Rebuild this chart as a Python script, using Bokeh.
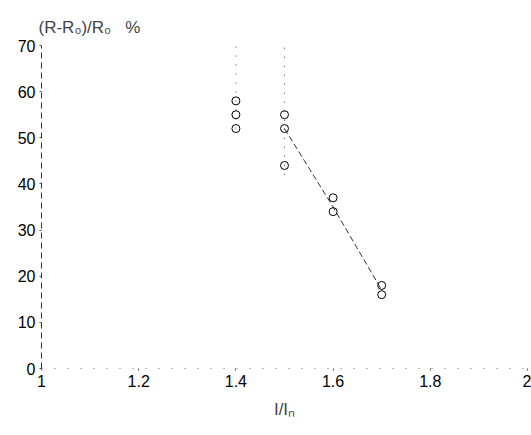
from bokeh.plotting import figure
from bokeh.embed import file_html
from bokeh.resources import INLINE
from bokeh.models import Range1d, FixedTicker

# data
pt_x = [1.4, 1.4, 1.4, 1.5, 1.5, 1.5, 1.6, 1.6, 1.7, 1.7]
pt_y = [52, 55, 58, 52, 55, 44, 34, 37, 16, 18]
err_x = [1.4, 1.5]
err_lo = [52, 42]
err_hi = [71, 70]
fit_x = [1.5, 1.6, 1.7]
fit_y = [52, 35, 17]
x_ticks = [1, 1.2, 1.4, 1.6, 1.8, 2]
x_labels = {1: "1", 1.2: "1.2", 1.4: "1.4", 1.6: "1.6", 1.8: "1.8", 2: "2"}
y_ticks = [0, 10, 20, 30, 40, 50, 60, 70]

FONT = "Liberation Sans"

p = figure(width=531, height=435, output_backend="svg", toolbar_location=None,
           x_range=Range1d(1, 2), y_range=Range1d(0, 70),
           min_border_left=41, min_border_right=4, min_border_top=45,
           min_border_bottom=67,
           title="(R-R₀)/R₀\u00a0\u00a0\u00a0%")
p.outline_line_color = None
p.xgrid.visible = False
p.ygrid.visible = False
p.background_fill_color = "white"
p.border_fill_color = "white"

p.title.text_font = FONT
p.title.text_font_size = "17px"
p.title.text_font_style = "normal"
p.title.align = "left"
p.title.vertical_align = "top"
p.title.offset = -3
p.title.standoff = 14

for ax in (p.xaxis[0], p.yaxis[0]):
    ax.major_label_text_font = FONT
    ax.major_label_text_font_size = "16px"
    ax.major_label_text_color = "black"
    ax.minor_tick_line_color = None
    ax.major_tick_line_color = "#555555"
    ax.major_tick_in = 0
    ax.major_tick_out = 2

p.xaxis.ticker = FixedTicker(ticks=x_ticks)
p.xaxis.major_label_overrides = x_labels
p.xaxis.axis_line_color = "#777777"
p.xaxis.axis_line_dash = "1 12"
p.xaxis.major_label_standoff = 4
p.xaxis.axis_label = "I/Iₙ"
p.xaxis.axis_label_text_font = FONT
p.xaxis.axis_label_text_font_style = "normal"
p.xaxis.axis_label_text_font_size = "17px"
p.xaxis.axis_label_standoff = 10

p.yaxis.ticker = FixedTicker(ticks=y_ticks)
p.yaxis.axis_line_color = "#333333"
p.yaxis.axis_line_dash = "6 4"
p.yaxis.major_label_standoff = 4

# error bars (dotted)
p.segment(x0=err_x, y0=err_lo, x1=err_x, y1=err_hi,
          line_color="#444444", line_width=1, line_dash="1 8")

# fit line
p.line(fit_x, fit_y, line_color="#333333", line_width=1, line_dash="6 3")

# data points
p.scatter(pt_x, pt_y, marker="circle", size=8, fill_color=None,
          line_color="black", line_width=1)

open("out.html", "w").write(file_html(p, INLINE))
